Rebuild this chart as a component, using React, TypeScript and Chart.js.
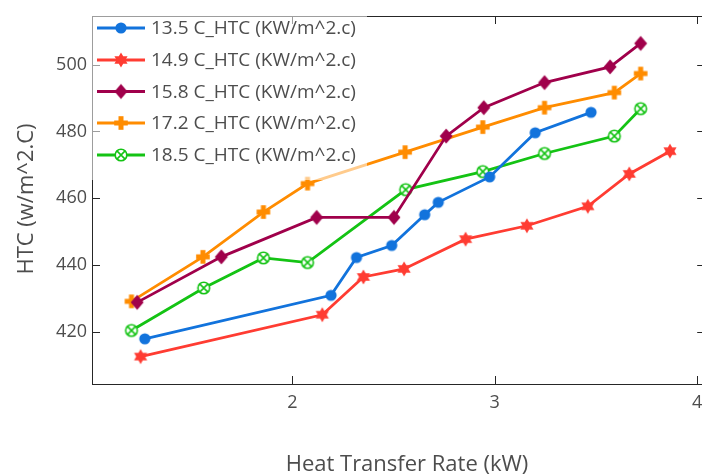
import React, { useEffect, useRef } from "react";
import { Chart, registerables } from "chart.js";

Chart.register(...registerables);

// ---- data ----
const SERIES_LABELS = [
  "13.5 C_HTC (KW/m^2.c)",
  "14.9 C_HTC (KW/m^2.c)",
  "15.8 C_HTC (KW/m^2.c)",
  "17.2 C_HTC (KW/m^2.c)",
  "18.5 C_HTC (KW/m^2.c)",
];

const X_135 = [1.271, 2.191, 2.317, 2.491, 2.654, 2.721, 2.975, 3.2, 3.476];
const Y_135 = [418.0, 431.0, 442.3, 445.9, 455.1, 458.8, 466.4, 479.6, 485.7];
const X_149 = [1.25, 2.148, 2.351, 2.552, 2.856, 3.159, 3.46, 3.665, 3.866];
const Y_149 = [412.7, 425.2, 436.5, 438.9, 447.8, 451.8, 457.6, 467.3, 474.1];
const X_158 = [1.233, 1.649, 2.12, 2.502, 2.76, 2.946, 3.246, 3.57, 3.721];
const Y_158 = [428.9, 442.5, 454.3, 454.3, 478.6, 487.1, 494.6, 499.3, 506.3];
const X_172 = [1.205, 1.558, 1.857, 2.075, 2.557, 2.941, 3.246, 3.591, 3.721];
const Y_172 = [429.2, 442.5, 455.9, 464.4, 473.8, 481.3, 487.1, 491.6, 497.3];
const X_185 = [1.205, 1.562, 1.857, 2.075, 2.56, 2.941, 3.246, 3.591, 3.721];
const Y_185 = [420.5, 433.2, 442.2, 440.8, 462.6, 468.0, 473.4, 478.6, 486.8];

const X_TICKS = [2, 3, 4];
const Y_TICKS = [420, 440, 460, 480, 500];

const X_TITLE = "Heat Transfer Rate (kW)";
const Y_TITLE = "HTC (w/m^2.C)";

const COLORS = ["#1273DC", "#FF3C32", "#A0004B", "#FF8C00", "#14C314"];
const MARKERS = ["circle", "hexagram", "diamond", "plus", "circlex"];

const FONT = "'Open Sans', 'Noto Sans', sans-serif";
const TEXT_COLOR = "#4d4d4d";
const AXIS_COLOR = "#262626";

function makeMarker(kind: string, color: string): HTMLCanvasElement {
  const c = document.createElement("canvas");
  c.width = 20;
  c.height = 20;
  const ctx = c.getContext("2d")!;
  ctx.translate(10, 10);
  ctx.fillStyle = color;
  ctx.strokeStyle = color;
  if (kind === "circle") {
    ctx.beginPath();
    ctx.arc(0, 0, 5.6, 0, Math.PI * 2);
    ctx.fill();
  } else if (kind === "hexagram") {
    const R = 7.6;
    const r = R / Math.sqrt(3);
    ctx.beginPath();
    for (let i = 0; i < 12; i++) {
      const a = -Math.PI / 2 + (i * Math.PI) / 6;
      const rr = i % 2 === 0 ? R : r;
      const px = Math.cos(a) * rr;
      const py = Math.sin(a) * rr;
      if (i === 0) ctx.moveTo(px, py);
      else ctx.lineTo(px, py);
    }
    ctx.closePath();
    ctx.fill();
  } else if (kind === "diamond") {
    ctx.beginPath();
    ctx.moveTo(0, -7.5);
    ctx.lineTo(6.5, 0);
    ctx.lineTo(0, 7.5);
    ctx.lineTo(-6.5, 0);
    ctx.closePath();
    ctx.fill();
  } else if (kind === "plus") {
    const h = 6.8;
    const w = 2.5;
    ctx.fillRect(-w, -h, 2 * w, 2 * h);
    ctx.fillRect(-h, -w, 2 * h, 2 * w);
  } else if (kind === "circlex") {
    ctx.fillStyle = "#ffffff";
    ctx.beginPath();
    ctx.arc(0, 0, 5.8, 0, Math.PI * 2);
    ctx.fill();
    ctx.lineWidth = 1.6;
    ctx.stroke();
    const d = 4.1;
    ctx.beginPath();
    ctx.moveTo(-d, -d);
    ctx.lineTo(d, d);
    ctx.moveTo(d, -d);
    ctx.lineTo(-d, d);
    ctx.stroke();
  }
  return c;
}

export default function App() {
  const ref = useRef<HTMLCanvasElement | null>(null);

  useEffect(() => {
    if (!ref.current) return;
    const xs = [X_135, X_149, X_158, X_172, X_185];
    const ys = [Y_135, Y_149, Y_158, Y_172, Y_185];
    const markers = COLORS.map((c, i) => makeMarker(MARKERS[i], c));

    const datasets = SERIES_LABELS.map((label, i) => ({
      label,
      data: xs[i].map((x, j) => ({ x, y: ys[i][j] })),
      borderColor: COLORS[i],
      backgroundColor: COLORS[i],
      borderWidth: 2.8,
      pointStyle: markers[i] as any,
      pointRadius: 7,
      tension: 0,
    }));

    const boxPlugin = {
      id: "boxPlugin",
      afterDatasetsDraw(chart: any) {
        const { ctx, chartArea } = chart;
        const { left, right, top, bottom } = chartArea;
        const xs = chart.scales.x;
        const ysc = chart.scales.y;
        ctx.save();
        ctx.strokeStyle = AXIS_COLOR;
        ctx.lineWidth = 1;
        ctx.strokeRect(Math.round(left) + 0.5, Math.round(top) + 0.5, Math.round(right - left), Math.round(bottom - top));
        const tl = 8;
        ctx.beginPath();
        X_TICKS.forEach((v) => {
          const px = Math.round(xs.getPixelForValue(v)) + 0.5;
          ctx.moveTo(px, bottom);
          ctx.lineTo(px, bottom - tl);
          ctx.moveTo(px, top);
          ctx.lineTo(px, top + tl);
        });
        Y_TICKS.forEach((v) => {
          const py = Math.round(ysc.getPixelForValue(v)) + 0.5;
          ctx.moveTo(left, py);
          ctx.lineTo(left + tl, py);
          ctx.moveTo(right, py);
          ctx.lineTo(right - tl, py);
        });
        ctx.stroke();
        ctx.restore();
      },
    };

    const legendPlugin = {
      id: "legendPlugin",
      afterDraw(chart: any) {
        const { ctx, chartArea } = chart;
        const lx = chartArea.left;
        const ly = chartArea.top;
        ctx.save();
        ctx.fillStyle = "rgba(255,255,255,0.55)";
        ctx.fillRect(lx, ly, 367 - lx, 180 - ly);
        const rows = [28, 60, 91.5, 123, 155];
        ctx.font = `19px ${FONT}`;
        ctx.textBaseline = "middle";
        ctx.textAlign = "left";
        SERIES_LABELS.forEach((label, i) => {
          const y = rows[i];
          ctx.strokeStyle = COLORS[i];
          ctx.lineWidth = 2.8;
          ctx.beginPath();
          ctx.moveTo(97, y);
          ctx.lineTo(145, y);
          ctx.stroke();
          ctx.drawImage(markers[i], 121 - 10, y - 10);
          ctx.fillStyle = TEXT_COLOR;
          ctx.fillText(label, 151, y + 1);
        });
        // axis titles
        ctx.fillStyle = TEXT_COLOR;
        ctx.font = `22px ${FONT}`;
        ctx.textAlign = "center";
        ctx.textBaseline = "alphabetic";
        ctx.fillText(X_TITLE, 407, 470.5);
        ctx.save();
        ctx.translate(33, 199);
        ctx.rotate(-Math.PI / 2);
        ctx.fillText(Y_TITLE, 0, 0);
        ctx.restore();
        ctx.restore();
      },
    };

    const chart = new Chart(ref.current, {
      type: "line",
      data: { datasets },
      options: {
        animation: false,
        responsive: true,
        maintainAspectRatio: false,
        layout: { padding: { left: 0, right: 8, top: 16, bottom: 0 } },
        plugins: { legend: { display: false }, tooltip: { enabled: false }, title: { display: false } },
        scales: {
          x: {
            type: "linear",
            min: 1.01,
            max: 4.04,
            grid: { display: false, drawTicks: false },
            border: { display: false },
            afterBuildTicks: (s: any) => {
              s.ticks = X_TICKS.map((v) => ({ value: v }));
            },
            afterFit: (s: any) => {
              s.height = 90;
            },
            ticks: {
              font: { family: FONT, size: 18 },
              color: TEXT_COLOR,
              padding: 8,
              maxRotation: 0,
              autoSkip: false,
            },
          },
          y: {
            type: "linear",
            min: 404.5,
            max: 514.5,
            grid: { display: false, drawTicks: false },
            border: { display: false },
            afterBuildTicks: (s: any) => {
              s.ticks = Y_TICKS.map((v) => ({ value: v }));
            },
            afterFit: (s: any) => {
              s.width = 92;
            },
            ticks: {
              font: { family: FONT, size: 18 },
              color: TEXT_COLOR,
              padding: 5,
            },
          },
        },
      },
      plugins: [boxPlugin, legendPlugin],
    });
    return () => chart.destroy();
  }, []);

  return (
    <div style={{ position: "fixed", left: 0, top: 0, width: 702, height: 474, overflow: "hidden", background: "#fff" }}>
      <div style={{ position: "relative", width: 715, height: 474 }}>
        <canvas ref={ref} />
      </div>
    </div>
  );
}
